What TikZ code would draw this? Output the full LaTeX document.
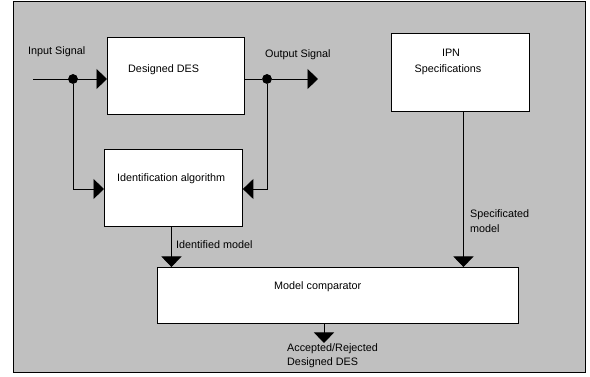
\documentclass[tikz,border=0pt]{standalone}
\usepackage{fontspec}
\setmainfont{Liberation Sans}
\usetikzlibrary{arrows.meta}
\definecolor{panel}{RGB}{192,192,192}
\begin{document}
\begin{tikzpicture}[x=1pt,y=-1pt,
  block/.style={draw=black, fill=white, line width=0.9pt, inner sep=0pt, anchor=north west},
  lbl/.style={font=\fontsize{10.8}{13}\selectfont, inner sep=0pt},
  wire/.style={line width=0.9pt},
  flow/.style={wire, -{Triangle[length=10.5pt,width=20pt]}},
  junction/.style={circle, fill=black, inner sep=0pt, minimum size=9.5pt}]
\useasboundingbox (0,0) rectangle (590,377);
\fill[white] (0,0) rectangle (590,377);
\draw[fill=panel, line width=1pt] (13.5,1.5) rectangle (585.5,372);

% blocks
\node[block, minimum width=137pt, minimum height=77pt] (des) at (107,37) {};
\node[block, minimum width=138pt, minimum height=77pt] (ident) at (104,149) {};
\node[block, minimum width=138pt, minimum height=78pt] (ipn) at (391,33) {};
\node[block, minimum width=361pt, minimum height=56pt] (cmp) at (157,267) {};

% block texts
\node[lbl, anchor=west] (desT) at (128,70) {Designed DES};
\node[lbl, anchor=west] (identT) at (117,179) {Identification algorithm};
\node[lbl] (ipnT1) at (451,53) {IPN};
\node[lbl] (ipnT2) at (448,70) {Specifications};
\node[lbl, anchor=west] (cmpT) at (274,287) {Model comparator};

% signal points
\coordinate (in) at (33,79);
\node[junction] (d1) at (73,79) {};
\node[junction] (d2) at (267,79) {};
\coordinate (out) at (318,79);
\coordinate (acc) at (324,343);

% connectors
\draw[flow] (in) -- (d1 -| des.west);
\draw[flow] (d1) |- ([yshift=-40pt]ident.north west);
\draw[wire] (des.east |- d2) -- (d2);
\draw[flow] (d2) -- (out);
\draw[flow] (d2) |- ([yshift=-40pt]ident.north east);
\draw[flow] ([xshift=-2pt]ident.south) -- ([xshift=-2pt]ident.south |- cmp.north);
\draw[flow] ([xshift=3pt]ipn.south) -- ([xshift=3pt]ipn.south |- cmp.north);
\draw[flow] (acc |- cmp.south) -- (acc);
\node[junction] at (d1) {};
\node[junction] at (d2) {};

% connector labels
\node[lbl, anchor=west] (inL) at (28,52) {Input Signal};
\node[lbl, anchor=west] (outL) at (265,55) {Output Signal};
\node[lbl, anchor=west] (idL) at (176,245) {Identified model};
\node[lbl, anchor=west] (spL1) at (470,215) {Specificated};
\node[lbl, anchor=west] (spL2) at (470,229) {model};
\node[lbl, anchor=west] (acL1) at (287,349) {Accepted/Rejected};
\node[lbl, anchor=west] (acL2) at (287,363) {Designed DES};
\end{tikzpicture}
\end{document}
